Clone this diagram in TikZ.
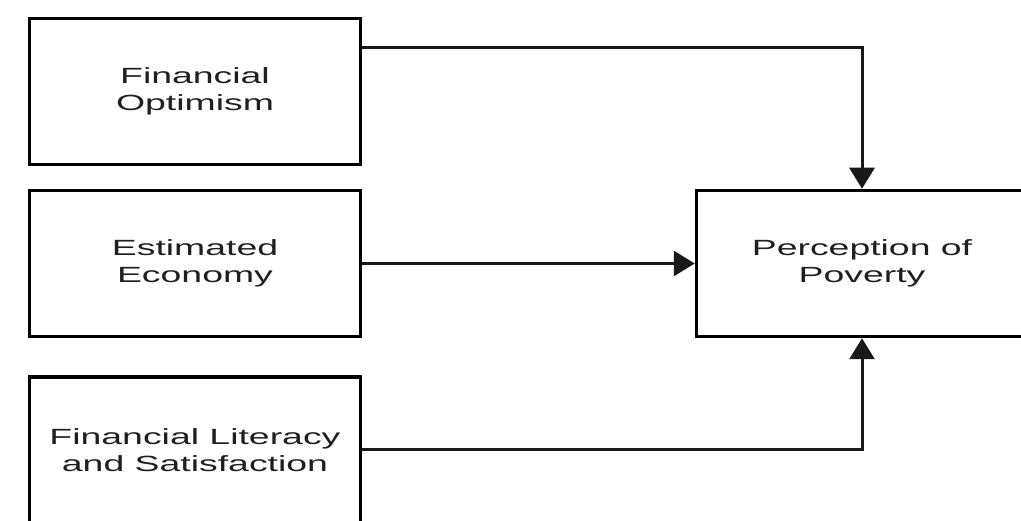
\documentclass[tikz,border=0pt]{standalone}
\usepackage{fontspec}
\setmainfont{Liberation Sans}[FakeStretch=1.7]
\usetikzlibrary{arrows.meta}

\begin{document}
\begin{tikzpicture}[x=1pt,y=-1pt]
\clip (0,0) rectangle (1021,521);
\fill[white] (0,0) rectangle (1021,521);

\begin{scope}[every node/.style={rectangle,draw,line width=3.5pt,
              minimum width=331pt,minimum height=146pt,align=center,
              font=\fontsize{22}{27}\selectfont,text=black!88}]
    \node (O) at (195,91.5) {Financial\\Optimism};
    \node (E) at (195,263.5) {Estimated\\Economy};
    \node (L) at (195,450) {Financial Literacy\\and Satisfaction};
    \node (P) at (862,263.5) {Perception of\\Poverty};
\end{scope}

\begin{scope}[>={Triangle[length=21pt,width=25pt]},
              line width=3pt, draw=black!90]
    \draw [->] ([yshift=43.5pt]O.east) -| (P.north);
    \path [->] (E) edge (P);
    \draw [->] (L) -| (P.south);
\end{scope}
\end{tikzpicture}
\end{document}
